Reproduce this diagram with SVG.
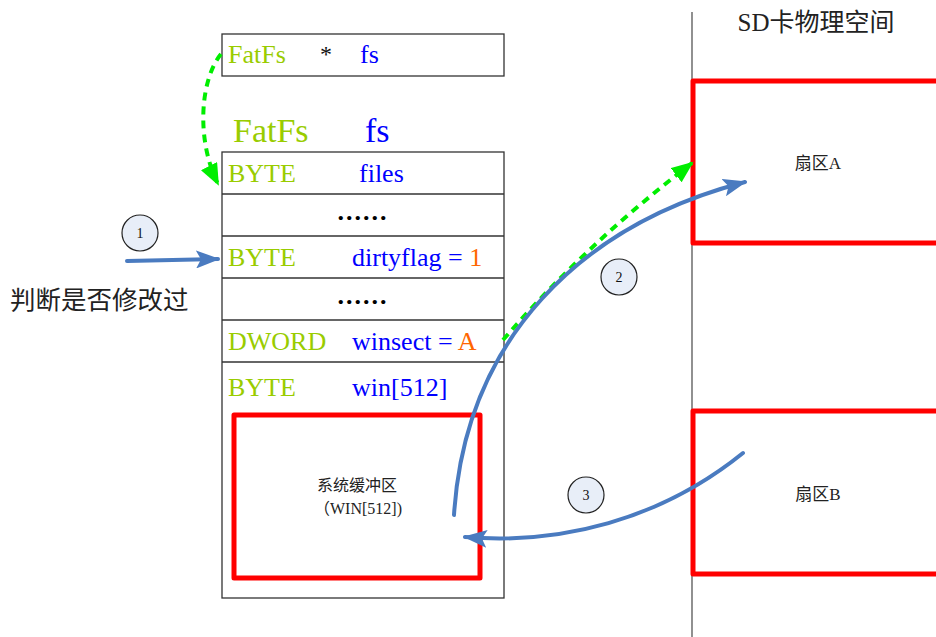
<svg xmlns="http://www.w3.org/2000/svg" width="936" height="637" viewBox="0 0 936 637">
  <style>
    .t { font-family: "Liberation Serif", "Noto Sans CJK SC", serif; }
    .cn { font-family: "Liberation Serif", "Noto Sans CJK SC", serif; fill: #222; }
    .type { fill: #99cc00; font-size: 26px; }
    .name { fill: #0000ff; font-size: 26px; }
    .val { fill: #ff6600; }
    .dots { font-size: 26px; fill: #000; text-anchor: middle; letter-spacing: 2px; font-weight: bold; }
    .box { fill: #fff; stroke: #333; stroke-width: 1.3; }
    .sep { stroke: #333; stroke-width: 1.3; }
    .sector { fill: none; stroke: #ff0000; stroke-width: 5; stroke-linejoin: round; }
    .badge { fill: #e8eef8; stroke: #222; stroke-width: 1.2; }
    .num { font-size: 14px; fill: #111; text-anchor: middle; }
    .blue { fill: none; stroke: #4a7bc0; stroke-width: 4; stroke-linecap: round; }
    .green { fill: none; stroke: #00ee00; stroke-width: 4; stroke-dasharray: 8 6; }
  </style>
  <defs>
    <marker id="blueHead" markerUnits="userSpaceOnUse" markerWidth="26" markerHeight="18" refX="22" refY="9" orient="auto">
      <path d="M0,0 L24,9 L0,18 L5,9 Z" fill="#4a7bc0"/>
    </marker>
    <marker id="greenHead" markerUnits="userSpaceOnUse" markerWidth="24" markerHeight="18" refX="20" refY="9" orient="auto">
      <path d="M0,0 L22,9 L0,18 Z" fill="#00ee00"/>
    </marker>
  </defs>

  <!-- pointer variable -->
  <g id="ptr">
    <rect class="box" x="222" y="34" width="282" height="42"/>
    <text class="t type" x="228" y="63">FatFs</text>
    <text class="t" x="320" y="62" font-size="24" fill="#111">*</text>
    <text class="t name" x="360" y="63">fs</text>
  </g>

  <!-- struct title -->
  <g id="title">
    <text class="t" x="233" y="142" font-size="34" fill="#99cc00">FatFs</text>
    <text class="t" x="365" y="142" font-size="34" fill="#0000ff">fs</text>
  </g>

  <!-- struct body -->
  <g id="struct">
    <rect class="box" x="222" y="152" width="282" height="446"/>
    <line class="sep" x1="222" y1="194" x2="504" y2="194"/>
    <line class="sep" x1="222" y1="236" x2="504" y2="236"/>
    <line class="sep" x1="222" y1="278" x2="504" y2="278"/>
    <line class="sep" x1="222" y1="320" x2="504" y2="320"/>
    <line class="sep" x1="222" y1="362" x2="504" y2="362"/>
    <text class="t type" x="228" y="182">BYTE</text>
    <text class="t name" x="359" y="182">files</text>
    <text class="t dots" x="363" y="220">......</text>
    <text class="t type" x="228" y="266">BYTE</text>
    <text class="t name" x="352" y="266">dirtyflag = <tspan class="val">1</tspan></text>
    <text class="t dots" x="363" y="304">......</text>
    <text class="t type" x="228" y="350">DWORD</text>
    <text class="t name" x="352" y="350">winsect = <tspan class="val">A</tspan></text>
    <text class="t type" x="228" y="396">BYTE</text>
    <text class="t name" x="352" y="396">win[512]</text>
  </g>

  <!-- window buffer -->
  <g id="winbuf">
    <rect class="sector" x="234" y="415" width="246" height="163"/>
    <text class="cn" x="357" y="491" font-size="16" text-anchor="middle">系统缓冲区</text>
    <text class="cn" x="358" y="514" font-size="16" text-anchor="middle">（WIN[512])</text>
  </g>

  <!-- SD card space -->
  <g id="sdcard">
    <line x1="692" y1="12" x2="692" y2="637" stroke="#555" stroke-width="1.3"/>
    <text class="cn" x="816" y="31" font-size="25" text-anchor="middle">SD卡物理空间</text>
  </g>
  <g id="sectorA">
    <rect class="sector" x="693" y="81" width="260" height="162"/>
    <text class="cn" x="818" y="169" font-size="17" text-anchor="middle">扇区A</text>
  </g>
  <g id="sectorB">
    <rect class="sector" x="693" y="411" width="260" height="163"/>
    <text class="cn" x="818" y="500" font-size="17" text-anchor="middle">扇区B</text>
  </g>

  <!-- side note -->
  <g id="note">
    <text class="cn" x="10" y="309" font-size="25.5">判断是否修改过</text>
  </g>

  <!-- step badges -->
  <g id="step1">
    <circle class="badge" cx="140" cy="233" r="18"/>
    <text class="t num" x="140" y="238">1</text>
  </g>
  <g id="step2">
    <circle class="badge" cx="619" cy="277" r="18"/>
    <text class="t num" x="619" y="282">2</text>
  </g>
  <g id="step3">
    <circle class="badge" cx="586" cy="495" r="18"/>
    <text class="t num" x="586" y="500">3</text>
  </g>

  <!-- connectors -->
  <g id="connectors">
    <path class="green" d="M221,54 C200,80 196,140 218,184" marker-end="url(#greenHead)"/>
    <path class="green" d="M503,340 Q585,245 692,163" marker-end="url(#greenHead)"/>
    <path class="blue" d="M127,261 L218,259" marker-end="url(#blueHead)"/>
    <path class="blue" d="M454,515 C465,340 580,225 745,182" marker-end="url(#blueHead)"/>
    <path class="blue" d="M743,453 C660,520 560,545 465,537" marker-end="url(#blueHead)"/>
  </g>
</svg>
